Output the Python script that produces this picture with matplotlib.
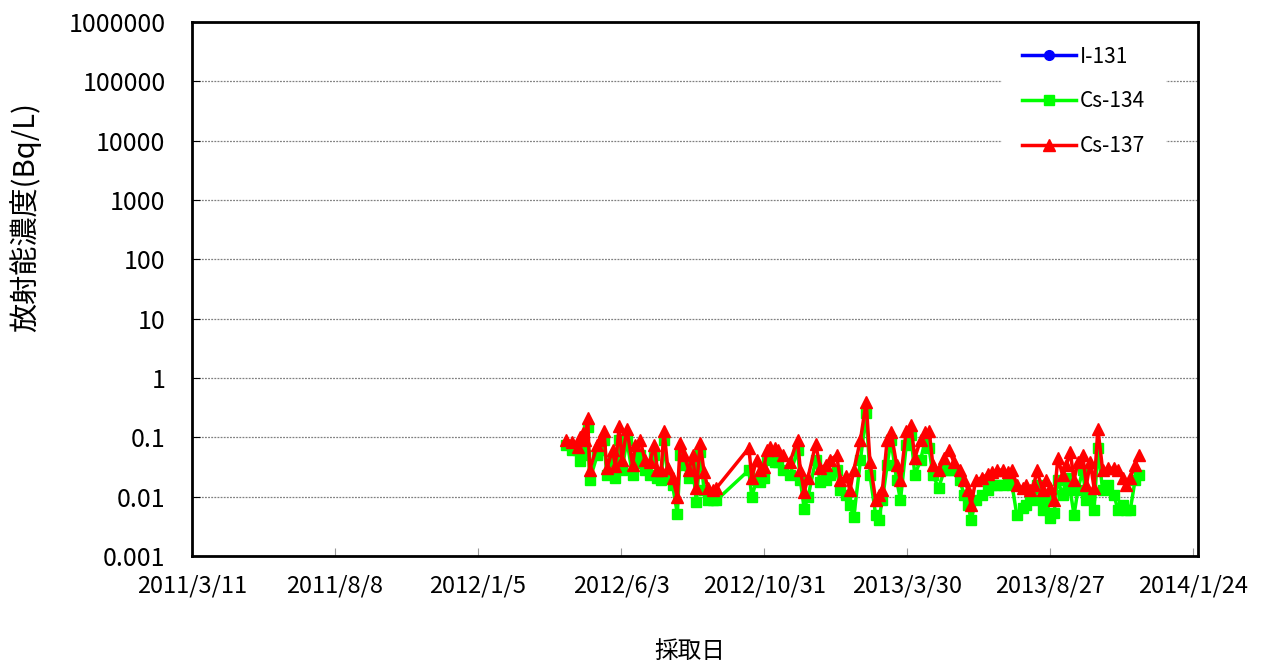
import matplotlib
matplotlib.use("Agg")
import matplotlib.pyplot as plt
import matplotlib.ticker as mticker
import pandas as pd

plt.rcParams['font.family'] = ['Noto Sans CJK JP', 'DejaVu Sans']

dates = [
    "2012-04-06", "2012-04-13", "2012-04-19", "2012-04-21", "2012-04-24", "2012-04-26", "2012-04-29",
    "2012-05-01", "2012-05-09", "2012-05-12", "2012-05-16", "2012-05-19", "2012-05-25", "2012-05-28",
    "2012-06-01", "2012-06-04", "2012-06-09", "2012-06-15", "2012-06-18", "2012-06-23", "2012-06-28",
    "2012-07-03", "2012-07-08", "2012-07-11", "2012-07-15", "2012-07-18", "2012-07-22", "2012-07-27",
    "2012-08-01", "2012-08-04", "2012-08-08", "2012-08-13", "2012-08-17", "2012-08-21", "2012-08-25",
    "2012-08-29", "2012-09-02", "2012-09-07", "2012-09-11",
    "2012-10-15", "2012-10-18", "2012-10-23", "2012-10-27", "2012-10-31",
    "2012-11-03", "2012-11-06", "2012-11-11", "2012-11-15", "2012-11-20", "2012-11-27",
    "2012-12-05", "2012-12-08", "2012-12-12", "2012-12-16", "2012-12-24", "2012-12-29",
    "2013-01-04", "2013-01-08", "2013-01-15", "2013-01-19", "2013-01-25", "2013-01-29",
    "2013-02-02", "2013-02-09", "2013-02-15", "2013-02-19", "2013-02-25", "2013-02-28",
    "2013-03-04", "2013-03-09", "2013-03-13", "2013-03-19", "2013-03-23", "2013-03-29",
    "2013-04-03", "2013-04-07", "2013-04-13", "2013-04-18", "2013-04-22", "2013-04-26",
    "2013-05-02", "2013-05-08", "2013-05-13", "2013-05-18", "2013-05-24", "2013-05-29",
    "2013-06-02", "2013-06-05", "2013-06-10", "2013-06-17", "2013-06-23", "2013-06-27",
    "2013-07-02", "2013-07-09", "2013-07-14", "2013-07-18", "2013-07-23", "2013-07-29",
    "2013-08-02", "2013-08-06", "2013-08-10", "2013-08-13", "2013-08-19", "2013-08-23",
    "2013-08-27", "2013-08-31",
    "2013-09-04", "2013-09-09", "2013-09-13", "2013-09-17", "2013-09-21", "2013-09-25", "2013-09-30",
    "2013-10-04", "2013-10-08", "2013-10-12", "2013-10-16", "2013-10-21", "2013-10-27",
    "2013-11-02", "2013-11-06", "2013-11-11", "2013-11-15", "2013-11-19", "2013-11-24", "2013-11-28",
]

cs137 = [
    0.09, 0.083, 0.069, 0.10, 0.118, 0.09, 0.21,
    0.028, 0.074, 0.09, 0.13, 0.030, 0.061, 0.033,
    0.155, 0.041, 0.14, 0.034, 0.074, 0.09, 0.041,
    0.038, 0.074, 0.028, 0.028, 0.13, 0.030, 0.021,
    0.0098, 0.08, 0.05, 0.028, 0.05, 0.014, 0.08,
    0.026, 0.014, 0.0128, 0.014,
    0.066, 0.021, 0.041, 0.028, 0.032,
    0.061, 0.069, 0.066, 0.061, 0.05, 0.038,
    0.09, 0.028, 0.0119, 0.021, 0.077, 0.030,
    0.034, 0.041, 0.05, 0.019, 0.022, 0.0128,
    0.028, 0.09, 0.40, 0.038, 0.0087, 0.0106,
    0.0128, 0.09, 0.123, 0.034, 0.019, 0.13,
    0.16, 0.045, 0.09, 0.123, 0.13, 0.034,
    0.028, 0.045, 0.061, 0.038, 0.028, 0.019,
    0.0128, 0.0073, 0.019, 0.021, 0.024, 0.026,
    0.028, 0.028, 0.026, 0.028, 0.0157, 0.014,
    0.0157, 0.0128, 0.0157, 0.028, 0.0128, 0.019,
    0.014, 0.0087,
    0.045, 0.023, 0.034, 0.057, 0.019, 0.038, 0.05,
    0.0157, 0.038, 0.014, 0.14, 0.028, 0.030,
    0.030, 0.028, 0.021, 0.0157, 0.021, 0.034, 0.05,
]

cs134 = [
    0.074, 0.061, 0.06, 0.04, 0.074, 0.05, 0.15,
    0.019, 0.05, 0.061, 0.09, 0.023, 0.041, 0.021,
    0.09, 0.028, 0.09, 0.023, 0.037, 0.05, 0.028,
    0.023, 0.05, 0.021, 0.019, 0.09, 0.021, 0.0157,
    0.0051, 0.05, 0.034, 0.021, 0.033, 0.0081, 0.057,
    0.0128, 0.0087, 0.0087, 0.0087,
    0.028, 0.0098, 0.019, 0.018, 0.021,
    0.041, 0.05, 0.038, 0.038, 0.028, 0.023,
    0.061, 0.019, 0.0062, 0.0098, 0.041, 0.018,
    0.019, 0.023, 0.028, 0.0128, 0.0106, 0.0073,
    0.0045, 0.041, 0.26, 0.023, 0.0049, 0.004,
    0.0087, 0.034, 0.09, 0.019, 0.0087, 0.074,
    0.11, 0.023, 0.041, 0.09, 0.066, 0.023,
    0.014, 0.028, 0.028, 0.028, 0.019, 0.0106,
    0.0073, 0.004, 0.0087, 0.0106, 0.0128, 0.0157,
    0.0157, 0.0157, 0.019, 0.0157, 0.0049, 0.0064,
    0.0073, 0.0106, 0.0087, 0.0157, 0.006, 0.0087,
    0.0044, 0.0053,
    0.019, 0.0106, 0.021, 0.0128, 0.0049, 0.0128, 0.028,
    0.0087, 0.0106, 0.006, 0.066, 0.0128, 0.0157,
    0.0106, 0.006, 0.0073, 0.006, 0.006, 0.019, 0.023,
]

i131_dates = []
i131 = []

tick_start = "2011-03-11"
tick_step_days = 150
tick_count = 8
x_end = "2014-01-29"

y_tick_labels = ["0.001", "0.01", "0.1", "1", "10", "100", "1000", "10000", "100000", "1000000"]
series_labels = ["I-131", "Cs-134", "Cs-137"]
y_title = "放射能濃度(Bq/L)"
x_title = "採取日"

x = pd.to_datetime(dates)

W, H = 1272, 668
fig = plt.figure(figsize=(W/100, H/100), dpi=100)
ax = fig.add_axes([192/W, 1-556/H, (1198-192)/W, (556-22)/H])

ax.plot(pd.to_datetime(i131_dates), i131, color='#0000FF', marker='o', markersize=7,
        linewidth=2.5, label=series_labels[0])
ax.plot(x, cs134, color='#00FF00', marker='s', markersize=7.5, linewidth=2.5,
        label=series_labels[1], zorder=3)
ax.plot(x, cs137, color='#FF0000', marker='^', markersize=9, linewidth=2.5,
        label=series_labels[2], zorder=4)

ax.set_yscale('log')
ax.set_ylim(0.001, 1e6)
start = pd.Timestamp(tick_start)
ax.set_xlim(start, pd.Timestamp(x_end))

ticks = [start + pd.Timedelta(days=tick_step_days*i) for i in range(tick_count)]
ax.set_xticks(ticks)
ax.set_xticklabels([f"{t.year}/{t.month}/{t.day}" for t in ticks])

yt = [10.0**k for k in range(-3, 7)]
ax.yaxis.set_major_locator(mticker.FixedLocator(yt))
ax.yaxis.set_minor_locator(mticker.NullLocator())
ax.set_yticklabels(y_tick_labels)

ax.grid(axis='y', which='major', color='#808080', linestyle=(0, (1.5, 1)), linewidth=0.9)
ax.set_axisbelow(True)

for s in ax.spines.values():
    s.set_linewidth(2)
    s.set_color('black')

ax.tick_params(axis='both', direction='in', length=6, width=0.8, colors='black')
ax.tick_params(axis='x', labelsize=17, pad=13, color='#999999', labelcolor='black')
ax.tick_params(axis='y', labelsize=18, pad=19)

fig.text(25/W, 1-217/H, y_title, fontsize=21, rotation=90, ha='center', va='center')
fig.text(690/W, 1-652/H, x_title, fontsize=17, ha='center', va='center')

leg = ax.legend(loc='upper right', bbox_to_anchor=(0.968, 0.995), frameon=True,
                fontsize=15, labelspacing=1.1, handlelength=2.55, borderpad=1.0,
                handletextpad=0.2, fancybox=False, borderaxespad=0)
leg.get_frame().set_edgecolor('none')
leg.get_frame().set_facecolor('white')
leg.get_frame().set_alpha(1)

fig.savefig("out.png", dpi=100)
